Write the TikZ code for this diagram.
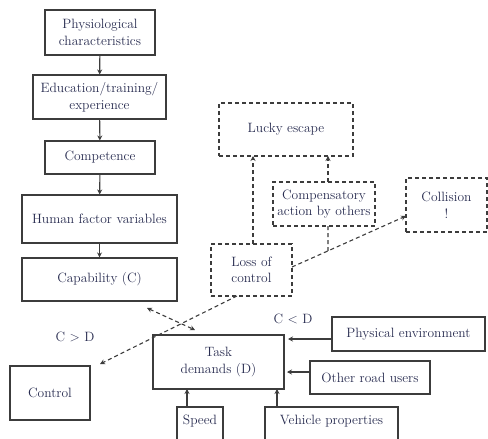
\documentclass[tikz,border=0pt]{standalone}
\usetikzlibrary{arrows.meta,calc}
\definecolor{txt}{RGB}{40,44,80}
\definecolor{ln}{RGB}{60,60,60}
\begin{document}
\begin{tikzpicture}[x=1pt,y=-1pt,
  font=\fontsize{13.5}{16.5}\selectfont,
  box/.style={draw=ln,line width=1.1pt,text=txt,align=center,inner sep=1pt,minimum width=#1},
  dbox/.style={box=#1,dashed,dash pattern=on 4pt off 3pt},
  arr/.style={draw=ln,line width=1.1pt,-{Stealth[length=5pt,width=5pt]}},
  darr/.style={draw=ln,line width=1.1pt,dash pattern=on 4pt off 3pt,-{Stealth[length=5pt,width=5pt]}},
  dline/.style={draw=ln,line width=1.1pt,dash pattern=on 4pt off 3pt},
  lbl/.style={text=txt}]
\useasboundingbox (0,0) rectangle (488,439);
\clip (0,0) rectangle (488,439);
% left column
\node[box=110pt,minimum height=45pt] (phys) at (100,32.5) {Physiological\\characteristics};
\node[box=133pt,minimum height=44pt] (edu) at (99.5,97) {Education/training/\\experience};
\node[box=110pt,minimum height=33pt] (comp) at (100,157.5) {Competence};
\node[box=155pt,minimum height=48pt] (hf) at (99.5,219) {Human factor variables};
\node[box=155pt,minimum height=43pt] (cap) at (99.5,279.5) {Capability (C)};
\node[box=80pt,minimum height=54pt] (control) at (50,393) {Control};
% task and inputs
\node[box=131pt,minimum height=54pt] (task) at (218.5,362) {Task\\demands (D)};
\node[box=46pt,minimum height=40pt,text depth=14pt] (speed) at (200,427) {Speed};
\node[box=133pt,minimum height=40pt,text depth=14pt] (veh) at (331.5,427) {Vehicle properties};
\node[box=153pt,minimum height=34pt] (penv) at (408.5,334) {Physical environment};
\node[box=120pt,minimum height=33pt] (other) at (370,377.5) {Other road users};
% dashed outcomes
\node[dbox=134pt,minimum height=53pt] (lucky) at (286,129.5) {Lucky escape};
\node[dbox=102pt,minimum height=44pt] (comps) at (324,204) {Compensatory\\action by others};
\node[dbox=81pt,minimum height=54pt] (coll) at (446.5,205) {Collision\\!};
\node[dbox=81pt,minimum height=52pt] (loss) at (251.5,270) {Loss of\\control};
% labels
\node[lbl] (cgd) at (75,337) {C > D};
\node[lbl] (cld) at (293,319) {C < D};
% solid arrows
\draw[arr] (phys) -- (edu);
\draw[arr] (edu) -- (comp);
\draw[arr] (comp) -- (hf);
\draw[arr] (hf) -- (cap);
\coordinate (pe1) at (332,339);
\coordinate (pe2) at (288,339);
\draw[arr] (pe1) -- (pe2);
\coordinate (or1) at (310,372);
\coordinate (or2) at (287,372);
\draw[arr] (or1) -- (or2);
\coordinate (sp1) at (187,407);
\coordinate (sp2) at (187,389);
\draw[arr] (sp1) -- (sp2);
\coordinate (vp1) at (277,407);
\coordinate (vp2) at (277,389);
\draw[arr] (vp1) -- (vp2);
% dashed arrows
\coordinate (l1) at (253,244);
\coordinate (l2) at (253,156);
\draw[darr] (l1) -- (l2);
\coordinate (c1) at (328,182);
\coordinate (c2) at (328,156);
\draw[darr] (c1) -- (c2);
\coordinate (ls) at (292,267);
\coordinate (ce) at (406,216);
\draw[darr] (ls) -- (ce);
\coordinate (j) at ($(ls)!0.316!(ce)$);
\coordinate (c3) at (328,226);
\draw[dline] (c3) -- (j);
\coordinate (lb) at (237,296);
\coordinate (ctl) at (100,364);
\draw[darr] (lb) -- (ctl);
\coordinate (ct1) at (147,308);
\coordinate (ct2) at (195,330);
\draw[darr,{Stealth[length=5pt,width=5pt]}-{Stealth[length=5pt,width=5pt]}] (ct1) -- (ct2);
\end{tikzpicture}
\end{document}
